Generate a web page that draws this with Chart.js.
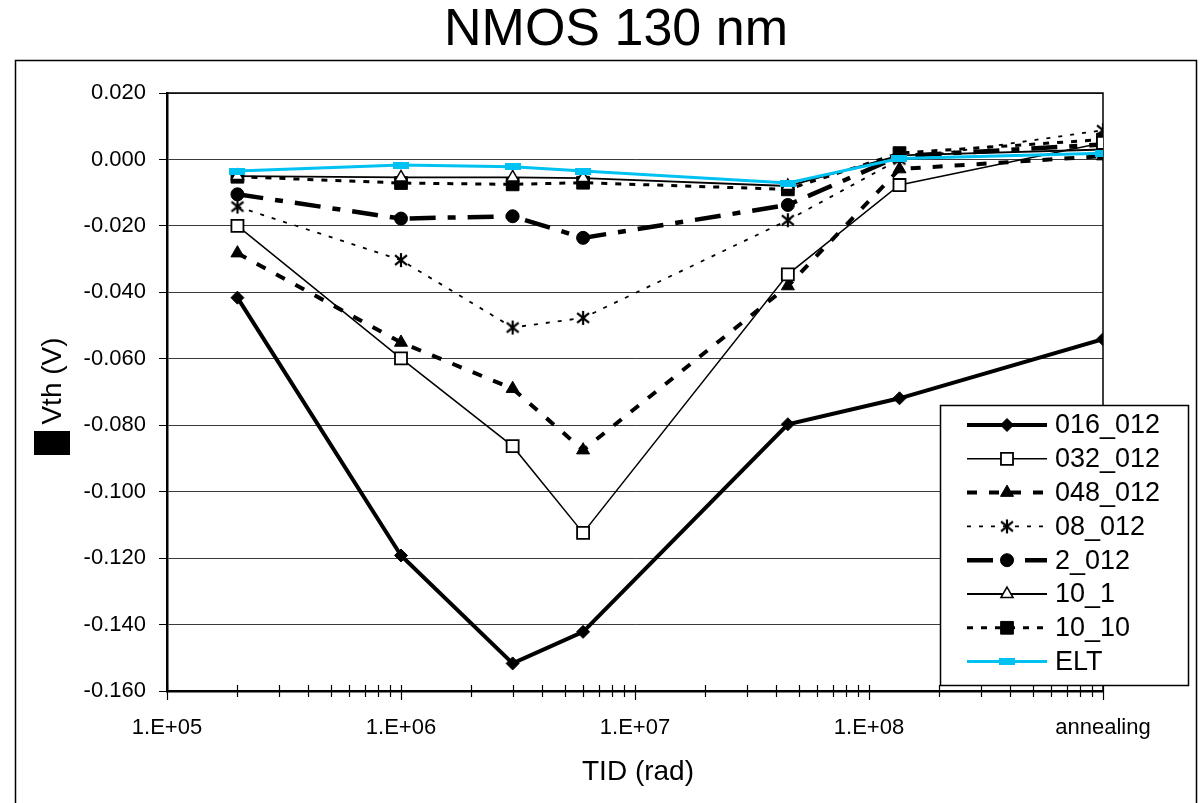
<!DOCTYPE html>
<html>
<head>
<meta charset="utf-8">
<title>NMOS 130 nm</title>
<script src="https://cdn.jsdelivr.net/npm/chart.js@4.4.1/dist/chart.umd.min.js"></script>
<style>
  html, body { margin: 0; padding: 0; background: #fff; }
  canvas { display: block; }
</style>
</head>
<body>
<canvas id="vthChart" width="1200" height="803"></canvas>
<script>
// Dose steps (rad); the last step is the annealing measurement, plotted at 1e9
const doses = [2e5, 1e6, 3e6, 6e6, 4.5e7, 1.35e8, 1e9];
const decades = [1e5, 1e6, 1e7, 1e8, 1e9];
const decadeLabels = ['1.E+05', '1.E+06', '1.E+07', '1.E+08', 'annealing'];

// Threshold voltage shift (V) per transistor geometry
const names = ['016_012', '032_012', '048_012', '08_012', '2_012', '10_1', '10_10', 'ELT'];
const v016_012 = [-0.0416, -0.1192, -0.1517, -0.1422, -0.0797, -0.0719, -0.0541];
const v032_012 = [-0.0200, -0.0599, -0.0863, -0.1124, -0.0346, -0.0077, 0.0050];
const v048_012 = [-0.0282, -0.0551, -0.0690, -0.0875, -0.0381, -0.0029, 0.0010];
const v08_012  = [-0.0142, -0.0303, -0.0506, -0.0477, -0.0183, 0.0000, 0.0088];
const v2_012   = [-0.0105, -0.0178, -0.0171, -0.0236, -0.0137, 0.0010, 0.0045];
const v10_1    = [-0.0050, -0.0054, -0.0054, -0.0056, -0.0080, 0.0012, 0.0030];
const v10_10   = [-0.0052, -0.0071, -0.0075, -0.0070, -0.0090, 0.0019, 0.0060];
const vELT     = [-0.0035, -0.0017, -0.0022, -0.0035, -0.0071, 0.0003, 0.0019];

const FONT = '"Liberation Sans", Arial, sans-serif';
const CYAN = '#00c2f2';

// asterisk marker: vertical bar plus an X
function asteriskMarker(size) {
	const c = document.createElement('canvas');
	c.width = c.height = size;
	const g = c.getContext('2d');
	const m = size / 2, r = size / 2 - 1;
	g.strokeStyle = '#000';
	g.lineWidth = 2.2;
	g.beginPath();
	g.moveTo(m, m - r); g.lineTo(m, m + r);
	g.moveTo(m - r * 0.85, m - r * 0.7); g.lineTo(m + r * 0.85, m + r * 0.7);
	g.moveTo(m + r * 0.85, m - r * 0.7); g.lineTo(m - r * 0.85, m + r * 0.7);
	g.stroke();
	return c;
}

// flat cyan bar used for the ELT points
function barMarker(w, h) {
	const c = document.createElement('canvas');
	c.width = w; c.height = h;
	const g = c.getContext('2d');
	g.fillStyle = CYAN;
	g.fillRect(0, 0, w, h);
	return c;
}

function series(label, values, style) {
	return Object.assign({
		label: label,
		data: doses.map((x, i) => ({ x: x, y: values[i] })),
		borderColor: '#000',
		backgroundColor: '#000',
		pointBorderColor: '#000',
		pointBackgroundColor: '#000',
		pointBorderWidth: 1,
		fill: false,
		tension: 0
	}, style);
}

const datasets = [
	series(names[0], v016_012, { borderWidth: 4, pointStyle: 'rectRot', pointRadius: 6.5 }),
	series(names[1], v032_012, { borderWidth: 1.5, pointStyle: 'rect', pointRadius: 8.5, pointBackgroundColor: '#fff', pointBorderWidth: 1.8 }),
	series(names[2], v048_012, { borderWidth: 4, borderDash: [10, 12], pointStyle: 'triangle', pointRadius: 7.5 }),
	series(names[3], v08_012, { borderWidth: 1.8, borderDash: [4, 8], pointStyle: asteriskMarker(16), pointRadius: 7 }),
	series(names[4], v2_012, { borderWidth: 4.5, borderDash: [26, 12, 8, 12], pointStyle: 'circle', pointRadius: 6.5 }),
	series(names[5], v10_1, { borderWidth: 1.8, pointStyle: 'triangle', pointRadius: 7, pointBackgroundColor: '#fff', pointBorderWidth: 1.5 }),
	series(names[6], v10_10, { borderWidth: 3, borderDash: [6, 8], pointStyle: 'rect', pointRadius: 9 }),
	series(names[7], vELT, { borderColor: CYAN, backgroundColor: CYAN, pointBorderColor: CYAN, pointBackgroundColor: CYAN, borderWidth: 3, pointStyle: barMarker(16, 7), pointRadius: 7, order: -1 })
];

// page frame, titles, plot frame, crossing ticks on the dose axis, legend box
const decorations = {
	id: 'decorations',
	beforeDraw(chart) {
		const ctx = chart.ctx;
		ctx.save();
		ctx.fillStyle = '#fff';
		ctx.fillRect(0, 0, chart.width, chart.height);
		ctx.strokeStyle = '#000';
		ctx.lineWidth = 1.5;
		ctx.strokeRect(15.5, 60.5, 1181, 800);
		ctx.restore();
	},
	beforeDatasetsDraw(chart) {
		const { ctx, chartArea: a } = chart;
		const xs = chart.scales.x;
		ctx.save();
		ctx.strokeStyle = '#000';
		ctx.lineWidth = 1.5;
		ctx.beginPath();
		ctx.moveTo(a.left, a.top);
		ctx.lineTo(a.right, a.top);
		ctx.lineTo(a.right, a.bottom);
		ctx.stroke();
		ctx.lineWidth = 1.2;
		xs.ticks.forEach(t => {
			const px = Math.round(xs.getPixelForValue(t.value)) + 0.5;
			const major = decades.includes(t.value);
			ctx.beginPath();
			ctx.moveTo(px, a.bottom - 6);
			ctx.lineTo(px, a.bottom + (major ? 9 : 6));
			ctx.stroke();
		});
		ctx.restore();
	},
	afterDraw(chart) {
		const ctx = chart.ctx;
		ctx.save();
		ctx.fillStyle = '#000';
		ctx.textAlign = 'center';
		ctx.textBaseline = 'middle';
		ctx.font = '52px ' + FONT;
		ctx.fillText('NMOS 130 nm', 616, 31);
		ctx.font = '28px ' + FONT;
		ctx.fillText('TID (rad)', 638, 772);
		ctx.save();
		ctx.translate(53, 381);
		ctx.rotate(-Math.PI / 2);
		ctx.fillText('Vth (V)', 0, 0);
		ctx.restore();
		ctx.fillRect(34, 431, 36, 24);

		// legend
		ctx.fillStyle = '#fff';
		ctx.fillRect(940, 405, 248, 280);
		ctx.strokeStyle = '#000';
		ctx.lineWidth = 1.5;
		ctx.strokeRect(940.5, 405.5, 248, 280);
		ctx.textAlign = 'left';
		ctx.font = '27px ' + FONT;
		chart.data.datasets.forEach((ds, i) => {
			const y = 425 + i * 33.8;
			ctx.setLineDash(ds.borderDash || []);
			ctx.lineWidth = ds.borderWidth;
			ctx.strokeStyle = ds.borderColor;
			ctx.beginPath();
			ctx.moveTo(967, y);
			ctx.lineTo(1047, y);
			ctx.stroke();
			ctx.setLineDash([]);
			ctx.fillStyle = ds.pointBackgroundColor;
			ctx.strokeStyle = ds.pointBorderColor;
			ctx.lineWidth = ds.pointBorderWidth;
			if (Chart.helpers && Chart.helpers.drawPoint) {
				Chart.helpers.drawPoint(ctx, {
					pointStyle: ds.pointStyle,
					radius: ds.pointRadius,
					rotation: 0,
					borderWidth: ds.pointBorderWidth
				}, 1007, y);
			}
			ctx.fillStyle = '#000';
			ctx.fillText(ds.label, 1055, y + 1);
		});
		ctx.restore();
	}
};

new Chart(document.getElementById('vthChart'), {
	type: 'line',
	data: { datasets: datasets },
	options: {
		responsive: false,
		animation: false,
		events: [],
		layout: { padding: { top: 93, right: 97, left: 0, bottom: 0 } },
		plugins: {
			legend: { display: false },
			title: { display: false },
			tooltip: { enabled: false }
		},
		scales: {
			x: {
				type: 'logarithmic',
				min: 1e5,
				max: 1e9,
				afterFit: s => { s.height = 112; },
				afterBuildTicks: s => {
					const ticks = [];
					for (let e = 5; e < 9; e++) {
						for (let m = 1; m < 10; m++) ticks.push({ value: m * Math.pow(10, e) });
					}
					ticks.push({ value: 1e9 });
					s.ticks = ticks;
				},
				grid: { display: false, drawTicks: false },
				border: { display: true, color: '#000', width: 2.5 },
				ticks: {
					autoSkip: false,
					maxRotation: 0,
					padding: 24,
					color: '#000',
					font: { family: FONT, size: 22 },
					callback: v => {
						const k = decades.findIndex(d => Math.abs(d - v) / d < 1e-6);
						return k >= 0 ? decadeLabels[k] : '';
					}
				}
			},
			y: {
				min: -0.16,
				max: 0.02,
				afterFit: s => { s.width = 167; },
				grid: { color: '#3a3a3a', lineWidth: 1, tickLength: 8, tickColor: '#000' },
				border: { display: true, color: '#000', width: 2.5 },
				ticks: {
					stepSize: 0.02,
					padding: 13,
					color: '#000',
					font: { family: FONT, size: 22 },
					callback: v => (Math.abs(v) < 1e-9 ? 0 : v).toFixed(3)
				}
			}
		}
	},
	plugins: [decorations]
});
</script>
</body>
</html>
